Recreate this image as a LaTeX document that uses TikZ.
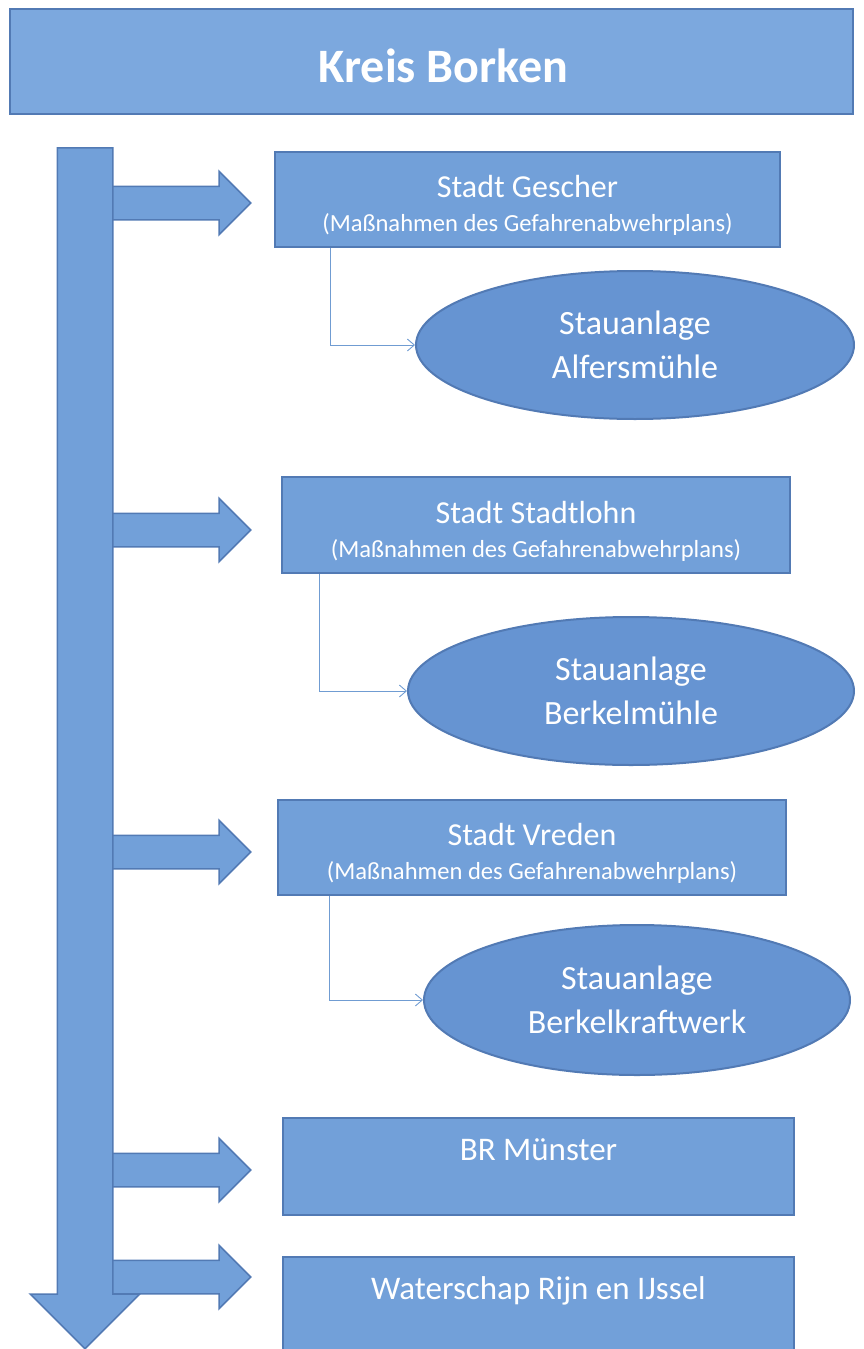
\documentclass[tikz,border=0pt]{standalone}
\usepackage{fontspec}
\setmainfont{Carlito}
\usetikzlibrary{shapes.geometric,shapes.arrows,arrows.meta}
\definecolor{boxfill}{RGB}{114,160,217}
\definecolor{boxline}{RGB}{82,122,180}
\definecolor{titlefill}{RGB}{124,168,222}
\definecolor{ellfill}{RGB}{102,148,210}
\definecolor{connline}{RGB}{112,156,210}
\tikzset{
  blockbox/.style={draw=boxline, line width=2pt, fill=boxfill, rectangle, inner sep=0pt, text=white, align=center,
    font=\fontsize{32}{34}\selectfont},
  ellbox/.style={draw=boxline, line width=2pt, fill=ellfill, ellipse, inner sep=0pt, text=white, align=center,
    font=\fontsize{34}{44}\selectfont},
  bigarrow/.style={draw=boxline, line width=1.5pt, fill=boxfill, single arrow, single arrow head extend=15pt,
    inner xsep=0pt, inner ysep=16pt, minimum height=140pt, anchor=tail},
  conn/.style={draw=connline, line width=0.9pt, -{Straight Barb[length=7pt,width=12pt]}}
}
\newcommand{\twoline}[1]{\rule{0pt}{34pt}#1\\{\fontsize{24.6}{28}\selectfont (Maßnahmen des Gefahrenabwehrplans)}}
\begin{document}
\begin{tikzpicture}[x=1pt,y=-1pt]
\useasboundingbox (0,0) rectangle (863,1349);
% title
\node[blockbox, fill=titlefill, minimum width=843pt, minimum height=105pt,
  label={[anchor=center, xshift=12pt, yshift=-4pt, text=white, font=\fontsize{48}{54}\selectfont\bfseries]center:Kreis Borken}]
  (kb) at (431.5,61.5) {};
% horizontal arrows
\node[bigarrow] (h1) at (110,203) {};
\node[bigarrow] (h2) at (110,530) {};
\node[bigarrow] (h3) at (110,852) {};
\node[bigarrow] (h4) at (110,1170) {};
\node[bigarrow] (h5) at (110,1277) {};
% vertical main arrow
\node[draw=boxline, line width=1.5pt, fill=boxfill, single arrow, single arrow head extend=27pt,
  inner xsep=0pt, inner ysep=27pt, minimum height=1201pt, anchor=tail, rotate=-90] (main) at (85,147) {};
% boxes
\node[blockbox, minimum width=505pt, minimum height=95pt] (g) at (527.5,199.5) {\twoline{Stadt Gescher}};
\node[blockbox, minimum width=508pt, minimum height=96pt] (s) at (536,525) {\twoline{Stadt Stadtlohn}};
\node[blockbox, minimum width=508pt, minimum height=95pt] (v) at (532,847.5) {\twoline{Stadt Vreden}};
\node[blockbox, minimum width=511pt, minimum height=97pt,
  label={[anchor=center, yshift=-33pt, text=white, font=\fontsize{33}{38}\selectfont]north:BR Münster}]
  (br) at (538.5,1166.5) {};
\node[blockbox, minimum width=511pt, minimum height=108pt,
  label={[anchor=center, yshift=-35pt, text=white, font=\fontsize{33}{38}\selectfont]north:Waterschap Rijn en IJssel}]
  (wr) at (538.5,1311) {};
% ellipses
\node[ellbox, minimum width=438pt, minimum height=148pt] (ae) at (635,345) {Stauanlage\\Alfersmühle};
\node[ellbox, minimum width=446pt, minimum height=148pt] (be) at (631,691) {Stauanlage\\Berkelmühle};
\node[ellbox, minimum width=426pt, minimum height=150pt] (ke) at (637,1000) {Stauanlage\\Berkelkraftwerk};
% connectors
\draw[conn] ([xshift=-197.5pt]g.south) |- (ae.west);
\draw[conn] ([xshift=-217pt]s.south) |- (be.west);
\draw[conn] ([xshift=-203pt]v.south) |- (ke.west);
\end{tikzpicture}
\end{document}
